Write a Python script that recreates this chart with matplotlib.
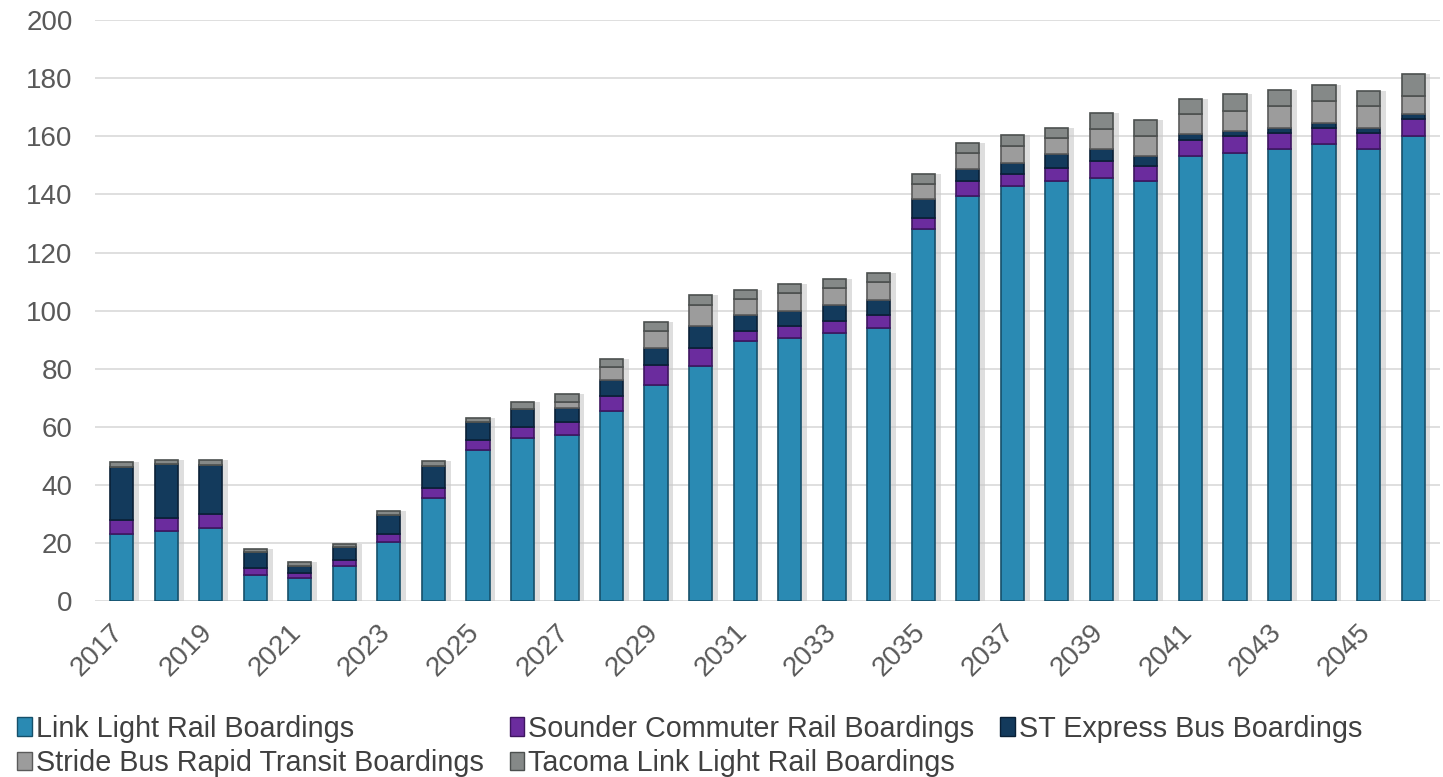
import numpy as np
import matplotlib
matplotlib.use("Agg")
import matplotlib.pyplot as plt
import matplotlib.transforms as mtrans
from matplotlib.patches import Patch

plt.rcParams['font.family'] = ['Liberation Sans', 'DejaVu Sans']

years = list(range(2017, 2047))
link = [23, 24, 25.3, 9, 7.9, 12, 20.2, 35.6, 52, 56, 57, 65.5, 74.5, 80.8, 89.4,
        90.6, 92.3, 94, 128, 139.4, 142.9, 144.6, 145.8, 144.6, 153.2, 154.4, 155.5,
        157.2, 155.5, 160.1]
sounder = [5, 4.7, 4.5, 2.3, 1.9, 2.2, 3, 3.4, 3.4, 4, 4.5, 5, 6.9, 6.3, 3.5,
           4, 4, 4.6, 4, 5.2, 4, 4.6, 5.7, 5.2, 5.5, 5.7, 5.8, 5.8, 5.8, 5.8]
express = [18, 18.5, 17, 5.6, 2.4, 4.4, 6.3, 7.6, 6.2, 6, 5, 5.5, 5.7, 7.5, 5.7,
           5.2, 5.8, 5.2, 6.3, 4, 4, 4.6, 4, 3.4, 2, 1.7, 1.7, 1.7, 1.7, 1.7]
stride = [0, 0, 0, 0, 0, 0, 0, 0, 0, 0, 2.2, 4.5, 6, 7.5, 5.5,
          6.2, 5.6, 5.9, 5.4, 5.8, 5.9, 5.8, 6.9, 6.9, 6.9, 6.9, 7.5, 7.5, 7.5, 6.3]
tacoma = [1.8, 1.5, 1.8, 1, 1.1, 1.2, 1.5, 1.7, 1.5, 2.6, 2.5, 2.7, 2.9, 3.4, 3.1,
          3.3, 3.2, 3.3, 3.2, 3.4, 3.5, 3.4, 5.5, 5.4, 5.4, 5.8, 5.5, 5.4, 5.1, 7.5]

series = [
    ("Link Light Rail Boardings", link, "#2a8ab3", "#16506a"),
    ("Sounder Commuter Rail Boardings", sounder, "#6b2c9e", "#3e1660"),
    ("ST Express Bus Boardings", express, "#133a5c", "#0a2036"),
    ("Stride Bus Rapid Transit Boardings", stride, "#9c9c9c", "#5a5a5a"),
    ("Tacoma Link Light Rail Boardings", tacoma, "#858988", "#4c504f"),
]

fig = plt.figure(figsize=(14.43, 7.77), dpi=100)
ax = fig.add_axes([0.0658, 0.2265, 0.932, 0.7475])

x = np.arange(len(years))
w = 0.52
total = np.sum([s[1] for s in series], axis=0)

# soft shadow to the right of each bar
ax.bar(x + 0.13, total, w, color="#c8c8c8", alpha=0.6, zorder=1, linewidth=0)

bottom = np.zeros(len(years))
handles = []
for name, vals, col, edge in series:
    vals = np.array(vals)
    ax.bar(x, vals, w, bottom=bottom, color=col, edgecolor=edge, linewidth=1.2, zorder=2)
    bottom += vals
    handles.append(Patch(facecolor=col, edgecolor=edge, label=name))

ax.set_xlim(-0.6, len(years) - 0.4)
ax.set_ylim(0, 200)
ax.set_yticks(range(0, 201, 20))
ax.set_xticks(x[::2])
ax.set_xticklabels([str(y) for y in years[::2]], rotation=45, ha='right', va='top')
ax.tick_params(axis='both', length=0, labelsize=20, labelcolor="#595959")
ax.tick_params(axis='y', pad=16)
ax.tick_params(axis='x', pad=13)
shift = mtrans.ScaledTranslation(0.07, 0, fig.dpi_scale_trans)
for lab in ax.get_xticklabels():
    lab.set_transform(lab.get_transform() + shift)
ax.grid(axis='y', color="#d9d9d9", linewidth=1.2, zorder=0)
ax.set_axisbelow(True)
for sp in ax.spines.values():
    sp.set_visible(False)

# column-major order so rows read Link/Sounder/Express then Stride/Tacoma
order = [0, 3, 1, 4, 2]
fig.legend([handles[i] for i in order], [series[i][0] for i in order],
           loc='lower left', bbox_to_anchor=(-0.002, -0.026), ncol=3, frameon=False,
           fontsize=20.7, labelcolor="#404040", handlelength=0.5, handleheight=0.6,
           handletextpad=0.15, columnspacing=0.9, labelspacing=0.22, borderpad=0.2)

fig.savefig("out.png", dpi=100)
